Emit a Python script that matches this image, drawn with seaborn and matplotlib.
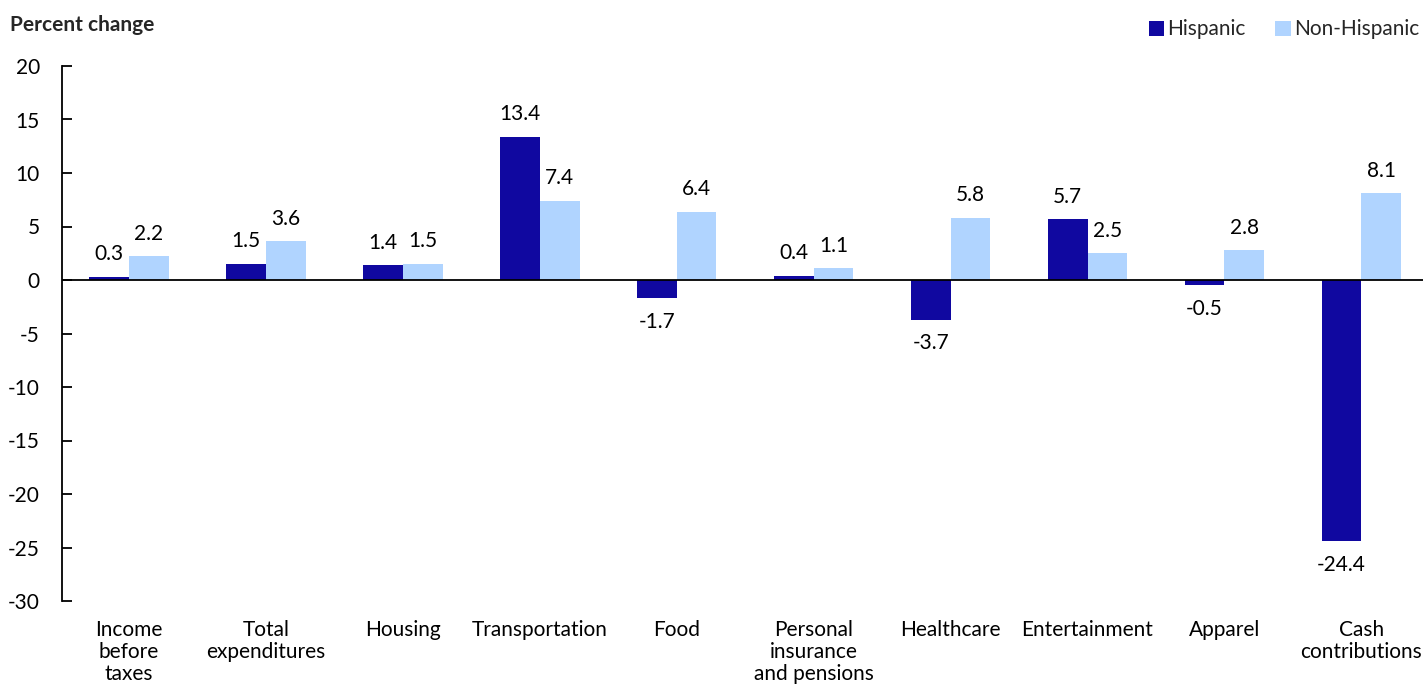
import pandas as pd
import numpy as np
import seaborn as sns
import matplotlib.pyplot as plt

# Datos
categories = ['Income\nbefore\ntaxes', 'Total\nexpenditures', 'Housing', 'Transportation', 'Food',
              'Personal\ninsurance\nand pensions', 'Healthcare', 'Entertainment', 'Apparel',
              'Cash\ncontributions']
hispanic = [0.3, 1.5, 1.4, 13.4, -1.7, 0.4, -3.7, 5.7, -0.5, -24.4]
non_hispanic = [2.2, 3.6, 1.5, 7.4, 6.4, 1.1, 5.8, 2.5, 2.8, 8.1]
groups = ['Hispanic', 'Non-Hispanic']
colors = ['#1008A0', '#B0D4FF']

df = pd.DataFrame({
    'category': categories * 2,
    'group': [groups[0]] * len(categories) + [groups[1]] * len(categories),
    'value': hispanic + non_hispanic,
})

sns.set_theme(style='white')
plt.rcParams['font.family'] = ['Lato', 'DejaVu Sans']
plt.rcParams['axes.unicode_minus'] = False

FS = 15

fig = plt.figure(figsize=(14.23, 6.94), dpi=100)
ax = fig.add_axes([62 / 1423, 93 / 694, 1 - 62 / 1423, 535 / 694])

sns.barplot(data=df, x='category', y='value', hue='group', order=categories,
            hue_order=groups, palette=colors, width=0.58, saturation=1,
            errorbar=None, ax=ax, linewidth=0)

# Etiquetas de datos
for cont in ax.containers:
    for bar in cont:
        h = bar.get_height()
        x = bar.get_x() + bar.get_width() / 2
        off = 9 if h >= 0 else -10
        ax.annotate(f'{h:.1f}', (x, h), xytext=(0, off), textcoords='offset points',
                    ha='center', va='bottom' if h >= 0 else 'top', fontsize=FS,
                    color='black')

ax.axhline(0, color='black', lw=1.3, zorder=3)
ax.set_ylim(-30, 20)
ax.set_xlim(-0.49, 9.45)
ax.set_yticks(range(-30, 21, 5))
ax.tick_params(axis='y', direction='in', length=7, width=1.3, color='black',
               labelsize=FS, pad=16, left=True)
ax.tick_params(axis='x', length=0, labelsize=FS, pad=14)
for lbl in ax.get_yticklabels():
    lbl.set_color('black')
for lbl in ax.get_xticklabels():
    lbl.set_color('black')
    lbl.set_linespacing(1.12)
ax.set_xlabel('')
ax.set_ylabel('')
for s in ['top', 'right', 'bottom']:
    ax.spines[s].set_visible(False)
ax.spines['left'].set_color('black')
ax.spines['left'].set_linewidth(1.3)

fig.text(10 / 1423, 1 - 25 / 694, 'Percent change', fontsize=FS, fontweight='bold',
         va='center', ha='left')

leg = ax.legend(loc='upper right', bbox_to_anchor=(1.006, 0.99), bbox_transform=fig.transFigure,
                ncol=2, frameon=False, fontsize=FS, handlelength=0.75, handleheight=0.75,
                handletextpad=0.15, columnspacing=1.4, borderaxespad=0.3, borderpad=0.3)

fig.savefig('out.png', dpi=100)
plt.close()
